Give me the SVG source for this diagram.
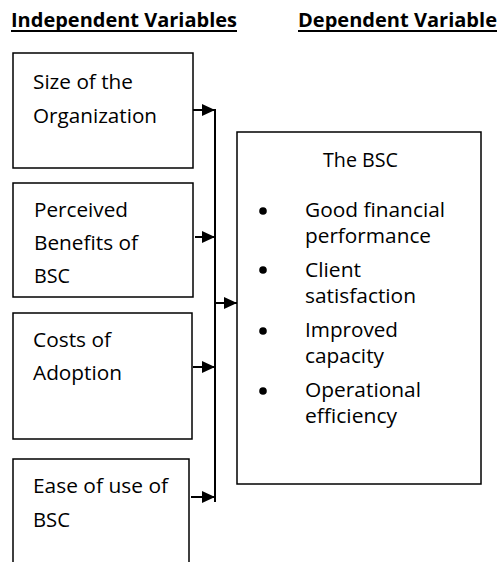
<svg xmlns="http://www.w3.org/2000/svg" width="500" height="562" viewBox="0 0 500 562">
  <defs>
    <marker id="head" viewBox="0 0 13 12" refX="13" refY="6" markerWidth="13" markerHeight="12" markerUnits="userSpaceOnUse" orient="auto">
      <path d="M0,0 L13,6 L0,12 Z" fill="#000"/>
    </marker>
    <style>
      .box { fill: #fff; stroke: #000; stroke-width: 1.5; }
      .txt { font-family: "Open Sans", "Liberation Sans", sans-serif; font-size: 20.5px; fill: #000; }
      .head { font-family: "Open Sans", "Liberation Sans", sans-serif; font-size: 19.5px; font-weight: bold; fill: #000; }
      .rule { stroke: #000; stroke-width: 2; }
      .wire { fill: none; stroke: #000; stroke-width: 2; }
      .arrow { fill: none; stroke: #000; stroke-width: 2; marker-end: url(#head); }
    </style>
  </defs>

  <!-- column headings -->
  <g id="headings">
    <text class="head" x="11" y="27" textLength="226" lengthAdjust="spacingAndGlyphs">Independent Variables</text>
    <line class="rule" x1="11" y1="31" x2="237" y2="31"/>
    <text class="head" x="298" y="27" textLength="199" lengthAdjust="spacingAndGlyphs">Dependent Variable</text>
    <line class="rule" x1="298" y1="31" x2="497" y2="31"/>
  </g>

  <!-- independent variables -->
  <g id="size">
    <rect class="box" x="13" y="53" width="180" height="115"/>
    <text class="txt" x="33" y="89" textLength="100" lengthAdjust="spacingAndGlyphs">Size of the</text>
    <text class="txt" x="33" y="123" textLength="124" lengthAdjust="spacingAndGlyphs">Organization</text>
  </g>
  <g id="benefits">
    <rect class="box" x="13" y="183" width="180" height="114"/>
    <text class="txt" x="34" y="217" textLength="94" lengthAdjust="spacingAndGlyphs">Perceived</text>
    <text class="txt" x="34" y="250" textLength="104" lengthAdjust="spacingAndGlyphs">Benefits of</text>
    <text class="txt" x="34" y="283" textLength="36" lengthAdjust="spacingAndGlyphs">BSC</text>
  </g>
  <g id="costs">
    <rect class="box" x="13" y="313" width="179" height="126"/>
    <text class="txt" x="33" y="347" textLength="78" lengthAdjust="spacingAndGlyphs">Costs of</text>
    <text class="txt" x="33" y="380" textLength="89" lengthAdjust="spacingAndGlyphs">Adoption</text>
  </g>
  <g id="ease">
    <path class="box" d="M13,570 V459 H189 V570"/>
    <text class="txt" x="33" y="493" textLength="135" lengthAdjust="spacingAndGlyphs">Ease of use of</text>
    <text class="txt" x="33" y="527" textLength="37" lengthAdjust="spacingAndGlyphs">BSC</text>
  </g>

  <!-- dependent variable -->
  <g id="bsc">
    <rect class="box" x="237" y="132" width="244" height="352"/>
    <text class="txt" x="323" y="167" textLength="75" lengthAdjust="spacingAndGlyphs">The BSC</text>
    <circle cx="263" cy="211" r="3.8"/>
    <text class="txt" x="305" y="217" textLength="140" lengthAdjust="spacingAndGlyphs">Good financial</text>
    <text class="txt" x="305" y="243" textLength="126" lengthAdjust="spacingAndGlyphs">performance</text>
    <circle cx="263" cy="270" r="3.8"/>
    <text class="txt" x="305" y="277" textLength="56" lengthAdjust="spacingAndGlyphs">Client</text>
    <text class="txt" x="305" y="303" textLength="111" lengthAdjust="spacingAndGlyphs">satisfaction</text>
    <circle cx="263" cy="331" r="3.8"/>
    <text class="txt" x="305" y="337" textLength="93" lengthAdjust="spacingAndGlyphs">Improved</text>
    <text class="txt" x="305" y="363" textLength="79" lengthAdjust="spacingAndGlyphs">capacity</text>
    <circle cx="263" cy="391" r="3.8"/>
    <text class="txt" x="305" y="397" textLength="116" lengthAdjust="spacingAndGlyphs">Operational</text>
    <text class="txt" x="305" y="423" textLength="92" lengthAdjust="spacingAndGlyphs">efficiency</text>
  </g>

  <!-- connectors -->
  <g id="connectors">
    <line class="wire" x1="215" y1="109" x2="215" y2="502"/>
    <line class="arrow" x1="193" y1="110" x2="215" y2="110"/>
    <line class="arrow" x1="195" y1="237" x2="215" y2="237"/>
    <line class="arrow" x1="193" y1="367" x2="215" y2="367"/>
    <line class="arrow" x1="191" y1="497" x2="215" y2="497"/>
    <line class="arrow" x1="215" y1="303" x2="237" y2="303"/>
  </g>
</svg>
